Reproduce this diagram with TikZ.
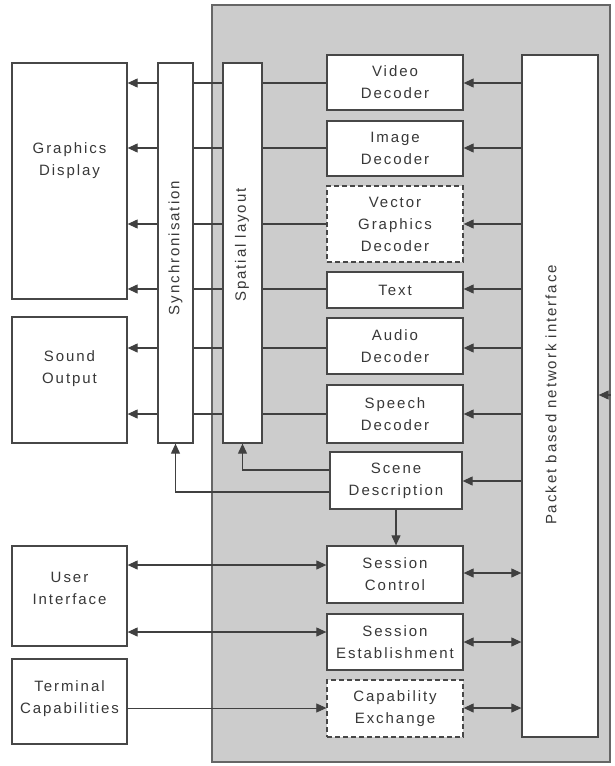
\documentclass[tikz,border=0pt]{standalone}
\usepackage{fontspec}
\setmainfont{Liberation Sans}[LetterSpace=13]
\usetikzlibrary{arrows.meta}
\begin{document}
\begin{tikzpicture}[x=1pt,y=-1pt,
  boxst/.style={draw=black!72, line width=1.3pt, fill=white, rectangle, inner sep=0pt, align=center,
    font=\fontsize{15}{22}\selectfont, text=black!78},
  dashbox/.style={boxst, dashed, dash pattern=on 5pt off 3pt},
  corest/.style={draw=black!60, line width=1.3pt, fill=black!20, rectangle, inner sep=0pt},
  lbl/.style={align=center, font=\fontsize{15}{22}\selectfont, text=black!78, inner sep=0pt},
  ln/.style={draw=black!75, line width=1.1pt},
  arr/.style={ln, -{Triangle[length=10pt,width=9pt]}},
  darr/.style={ln, {Triangle[length=10pt,width=9pt]}-{Triangle[length=10pt,width=9pt]}},
  thinarr/.style={draw=black!75, line width=0.7pt, -{Triangle[length=10pt,width=9pt]}}
]
\useasboundingbox (0,0) rectangle (614,766);
\fill[white] (0,0) rectangle (614,766);
% core gray area
\node[corest, minimum width=398pt, minimum height=757pt] (core) at (411,383.5) {};
% left boxes
\node[boxst, minimum width=115pt, minimum height=236pt] (gd) at (69.5,181) {};
\node[boxst, minimum width=115pt, minimum height=126pt] (so) at (69.5,380) {};
\node[boxst, minimum width=115pt, minimum height=100pt] (ui) at (69.5,596) {};
\node[boxst, minimum width=115pt, minimum height=85pt] (tc) at (69.5,701.5) {};
\node[lbl] (gdt) at (69.5,161) {Graphics\\Display};
\node[lbl] (sot) at (69.5,369) {Sound\\Output};
\node[lbl] (uit) at (69.5,588) {User\\Interface};
\node[lbl] (tct) at (69.5,698.5) {Terminal\\Capabilities};
% vertical bars
\node[boxst, minimum width=35pt, minimum height=380pt] (sync) at (175.5,253) {};
\node[boxst, minimum width=39pt, minimum height=380pt] (sp) at (242.5,253) {};
\node[boxst, minimum width=76pt, minimum height=682pt] (pk) at (560,396) {};
\node[lbl, rotate=90] (synct) at (175.5,248) {Synchronisation};
\node[lbl, rotate=90] (spt) at (242,245) {Spatial layout};
\node[lbl, rotate=90] (pkt) at (551,395) {Packet based network interface};
% decoders
\node[boxst, minimum width=136pt, minimum height=55pt] (vid) at (395,82.5) {Video\\Decoder};
\node[boxst, minimum width=136pt, minimum height=55pt] (img) at (395,148.5) {Image\\Decoder};
\node[dashbox, minimum width=136pt, minimum height=76pt] (vec) at (395,224) {Vector\\Graphics\\Decoder};
\node[boxst, minimum width=136pt, minimum height=36pt] (txt) at (395,290) {Text};
\node[boxst, minimum width=136pt, minimum height=56pt] (aud) at (395,346) {Audio\\Decoder};
\node[boxst, minimum width=136pt, minimum height=58pt] (spc) at (395,414) {Speech\\Decoder};
\node[boxst, minimum width=132pt, minimum height=57pt] (scn) at (396,480.5) {Scene\\Description};
\node[boxst, minimum width=136pt, minimum height=57pt] (ssc) at (395,574.5) {Session\\Control};
\node[boxst, minimum width=136pt, minimum height=56pt] (sse) at (395,642) {Session\\Establishment};
\node[dashbox, minimum width=136pt, minimum height=57pt] (cex) at (395,708.5) {Capability\\Exchange};
% row coordinates
\coordinate (r1) at (0,83);
\coordinate (r2) at (0,148);
\coordinate (r3) at (0,224);
\coordinate (r4) at (0,289);
\coordinate (r5) at (0,348);
\coordinate (r6) at (0,414);
\coordinate (rs) at (0,481);
\coordinate (rsa) at (0,470);
\coordinate (rsb) at (0,492);
\coordinate (u1) at (0,565);
\coordinate (u2) at (0,632);
\coordinate (t1) at (0,708);
\coordinate (p1) at (0,573);
\coordinate (p2) at (0,642);
\coordinate (p3) at (0,708);
\coordinate (rx) at (0,395);
% decoder rows
\foreach \d/\r/\o in {vid/r1/gd, img/r2/gd, vec/r3/gd, txt/r4/gd, aud/r5/so, spc/r6/so}{
  \draw[arr] (pk.west |- \r) -- (\d.east |- \r);
  \draw[ln] (\d.west |- \r) -- (sp.east |- \r);
  \draw[ln] (sp.west |- \r) -- (sync.east |- \r);
  \draw[arr] (sync.west |- \r) -- (\o.east |- \r);
}
% scene
\draw[arr] (pk.west |- rs) -- (scn.east |- rs);
\draw[arr] (scn.west |- rsa) -| (sp.south);
\draw[arr] (scn.west |- rsb) -| (sync.south);
\draw[arr] (scn.south) -- (scn.south |- ssc.north);
% user interface
\draw[darr] (ui.east |- u1) -- (ssc.west |- u1);
\draw[darr] (ui.east |- u2) -- (sse.west |- u2);
\draw[thinarr] (tc.east |- t1) -- (cex.west |- t1);
% session to packet
\draw[darr] (ssc.east |- p1) -- (pk.west |- p1);
\draw[darr] (sse.east |- p2) -- (pk.west |- p2);
\draw[darr] (cex.east |- p3) -- (pk.west |- p3);
% external
\draw[arr] (core.east |- rx) -- (pk.east |- rx);
\end{tikzpicture}
\end{document}
